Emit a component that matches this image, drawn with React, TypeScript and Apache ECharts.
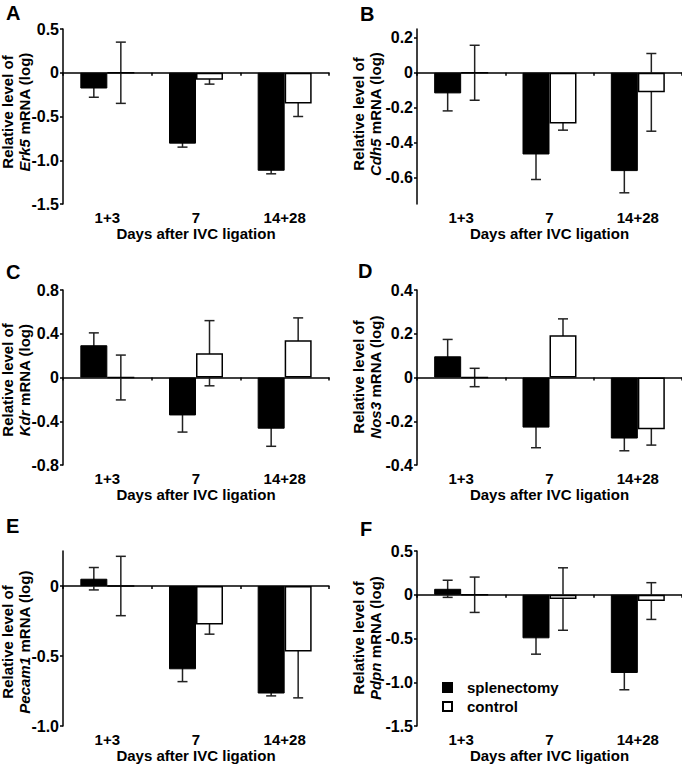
import React, { useEffect, useRef } from "react";
import * as echarts from "echarts";

const categories = ["1+3", "7", "14+28"];
const seriesNames = ["splenectomy", "control"];
const xAxisTitle = "Days after IVC ligation";

const erk5Splenectomy = [-0.18, -0.81, -1.12];
const erk5SplenectomyErr = [0.1, 0.04, 0.035];
const erk5Control = [0, -0.08, -0.35];
const erk5ControlErr = [0.35, 0.05, 0.15];
const erk5Ticks = [-1.5, -1, -0.5, 0, 0.5];

const cdh5Splenectomy = [-0.118, -0.467, -0.562];
const cdh5SplenectomyErr = [0.1, 0.143, 0.124];
const cdh5Control = [0, -0.29, -0.112];
const cdh5ControlErr = [0.157, 0.038, 0.222];
const cdh5Ticks = [-0.6, -0.4, -0.2, 0, 0.2];

const kdrSplenectomy = [0.295, -0.347, -0.468];
const kdrSplenectomyErr = [0.113, 0.152, 0.161];
const kdrControl = [0, 0.222, 0.341];
const kdrControlErr = [0.205, 0.298, 0.204];
const kdrTicks = [-0.8, -0.4, 0, 0.4, 0.8];

const nos3Splenectomy = [0.097, -0.229, -0.279];
const nos3SplenectomyErr = [0.077, 0.092, 0.056];
const nos3Control = [0, 0.193, -0.237];
const nos3ControlErr = [0.042, 0.075, 0.072];
const nos3Ticks = [-0.4, -0.2, 0, 0.2, 0.4];

const pecam1Splenectomy = [0.052, -0.595, -0.768];
const pecam1SplenectomyErr = [0.08, 0.088, 0.017];
const pecam1Control = [0, -0.275, -0.467];
const pecam1ControlErr = [0.212, 0.069, 0.332];
const pecam1Ticks = [-1, -0.5, 0];

const pdpnSplenectomy = [0.068, -0.498, -0.894];
const pdpnSplenectomyErr = [0.098, 0.181, 0.192];
const pdpnControl = [0, -0.049, -0.072];
const pdpnControlErr = [0.202, 0.357, 0.21];
const pdpnTicks = [-1.5, -1, -0.5, 0, 0.5];

const FONT = "'Liberation Sans', Arial, Helvetica, sans-serif";

const panels = [
  { letter: "A", gene: "Erk5", spl: erk5Splenectomy, splErr: erk5SplenectomyErr, ctl: erk5Control, ctlErr: erk5ControlErr, ticks: erk5Ticks, min: -1.5, max: 0.5,
    grid: { left: 63, top: 29, width: 266, height: 175 }, letterPos: [6, 3], namePos: [16, 112] },
  { letter: "B", gene: "Cdh5", spl: cdh5Splenectomy, splErr: cdh5SplenectomyErr, ctl: cdh5Control, ctlErr: cdh5ControlErr, ticks: cdh5Ticks, min: -0.75, max: 0.25,
    grid: { left: 417, top: 29, width: 265, height: 175 }, letterPos: [360, 4], namePos: [367, 114] },
  { letter: "C", gene: "Kdr", spl: kdrSplenectomy, splErr: kdrSplenectomyErr, ctl: kdrControl, ctlErr: kdrControlErr, ticks: kdrTicks, min: -0.8, max: 0.8,
    grid: { left: 63, top: 290, width: 266, height: 175 }, letterPos: [6, 262], namePos: [16, 380] },
  { letter: "D", gene: "Nos3", spl: nos3Splenectomy, splErr: nos3SplenectomyErr, ctl: nos3Control, ctlErr: nos3ControlErr, ticks: nos3Ticks, min: -0.4, max: 0.4,
    grid: { left: 417, top: 290, width: 265, height: 175 }, letterPos: [358, 261], namePos: [367, 377] },
  { letter: "E", gene: "Pecam1", spl: pecam1Splenectomy, splErr: pecam1SplenectomyErr, ctl: pecam1Control, ctlErr: pecam1ControlErr, ticks: pecam1Ticks, min: -1.0, max: 0.25,
    grid: { left: 63, top: 551, width: 266, height: 175 }, letterPos: [6, 516], namePos: [16, 642] },
  { letter: "F", gene: "Pdpn", spl: pdpnSplenectomy, splErr: pdpnSplenectomyErr, ctl: pdpnControl, ctlErr: pdpnControlErr, ticks: pdpnTicks, min: -1.5, max: 0.5,
    grid: { left: 417, top: 551, width: 265, height: 175 }, letterPos: [360, 519], namePos: [367, 638] },
];

const BAR_W = 27;

function errorRender(params: any, api: any) {
  const idx = api.value(0);
  const mean = api.value(1);
  const err = api.value(2);
  const off = api.value(3);
  const c = api.coord([idx, mean]);
  const x = c[0] + off;
  const yTop = api.coord([idx, mean + err])[1];
  const yBot = api.coord([idx, mean - err])[1];
  const style = { stroke: "#222", lineWidth: 1.5 };
  return {
    type: "group",
    children: [
      { type: "line", shape: { x1: x, y1: yTop, x2: x, y2: yBot }, style },
      { type: "line", shape: { x1: x - 5, y1: yTop, x2: x + 5, y2: yTop }, style },
      { type: "line", shape: { x1: x - 5, y1: yBot, x2: x + 5, y2: yBot }, style },
    ],
  };
}

function buildOption() {
  const grid: any[] = [];
  const xAxis: any[] = [];
  const yAxis: any[] = [];
  const series: any[] = [];
  const graphic: any[] = [];

  panels.forEach((p, g) => {
    grid.push({ ...p.grid, containLabel: false });
    xAxis.push({
      type: "category",
      gridIndex: g,
      data: categories,
      position: "bottom",
      axisLine: { show: false, onZero: false },
      axisTick: { show: false },
      axisLabel: { color: "#000", fontSize: 15, fontWeight: "bold", fontFamily: FONT, margin: 6 },
      name: xAxisTitle,
      nameLocation: "middle",
      nameGap: 22,
      nameTextStyle: { color: "#000", fontSize: 15, fontWeight: "bold", fontFamily: FONT },
      splitLine: { show: false },
    });
    xAxis.push({
      type: "category",
      gridIndex: g,
      data: categories,
      position: "bottom",
      axisLine: { show: true, onZero: true, lineStyle: { color: "#000", width: 1.5 } },
      axisTick: { show: true, length: 3, lineStyle: { color: "#000", width: 1.5 } },
      axisLabel: { show: false },
      splitLine: { show: false },
    });
    yAxis.push({
      type: "value",
      gridIndex: g,
      min: p.min,
      max: p.max,
      axisLine: { show: true, onZero: false, lineStyle: { color: "#000", width: 1.5 } },
      axisTick: { show: true, length: 3, customValues: p.ticks, lineStyle: { color: "#000", width: 1.5 } },
      axisLabel: {
        customValues: p.ticks,
        color: "#000",
        fontSize: 16,
        fontWeight: "bold",
        fontFamily: FONT,
        margin: 4,
        formatter: (v: number) => (Math.abs(v) < 1e-9 ? "0" : v.toFixed(1)),
      },
      splitLine: { show: false },
    });

    const xi = g * 2;
    series.push({
      type: "custom",
      xAxisIndex: xi,
      yAxisIndex: g,
      z: 1,
      renderItem: errorRender,
      encode: { x: 0, y: 1 },
      data: p.spl.map((v, i) => [i, v, p.splErr[i], -BAR_W / 2]),
      silent: true,
    });
    series.push({
      type: "custom",
      xAxisIndex: xi,
      yAxisIndex: g,
      z: 1,
      renderItem: errorRender,
      encode: { x: 0, y: 1 },
      data: p.ctl.map((v, i) => [i, v, p.ctlErr[i], BAR_W / 2]),
      silent: true,
    });
    series.push({
      type: "bar",
      name: seriesNames[0],
      xAxisIndex: xi,
      yAxisIndex: g,
      z: 3,
      barWidth: BAR_W,
      barGap: "0%",
      data: p.spl,
      itemStyle: { color: "#000", borderColor: "#000", borderWidth: 1 },
    });
    series.push({
      type: "bar",
      name: seriesNames[1],
      xAxisIndex: xi,
      yAxisIndex: g,
      z: 3,
      barWidth: BAR_W,
      barGap: "0%",
      data: p.ctl,
      itemStyle: { color: "#fff", borderColor: "#000", borderWidth: 1.5 },
    });

    graphic.push({
      type: "text",
      left: p.letterPos[0],
      top: p.letterPos[1],
      style: { text: p.letter, fill: "#000", fontSize: 20, fontWeight: "bold", fontFamily: FONT },
    });
    graphic.push({
      type: "text",
      x: p.namePos[0],
      y: p.namePos[1],
      rotation: Math.PI / 2,
      style: {
        text: "{n|Relative level of}\n{i|" + p.gene + "}{n| mRNA (log)}",
        align: "center",
        verticalAlign: "middle",
        fill: "#000",
        rich: {
          n: { fontSize: 15, fontWeight: "bold", fontFamily: FONT, lineHeight: 17, fill: "#000" },
          i: { fontSize: 15, fontWeight: "bold", fontStyle: "italic", fontFamily: FONT, lineHeight: 17, fill: "#000" },
        },
      },
    });
  });

  return {
    animation: false,
    backgroundColor: "#fff",
    grid,
    xAxis,
    yAxis,
    series,
    graphic,
    legend: {
      data: seriesNames,
      orient: "vertical",
      left: 437,
      top: 675,
      icon: "rect",
      itemWidth: 9,
      itemHeight: 9,
      itemGap: 4,
      selectedMode: false,
      textStyle: { color: "#000", fontSize: 15, fontWeight: "bold", fontFamily: FONT, padding: [0, 0, 0, 10] },
    },
  };
}

export default function App() {
  const ref = useRef<HTMLDivElement>(null);
  useEffect(() => {
    if (!ref.current) return;
    const chart = echarts.init(ref.current, null, { renderer: "svg" });
    chart.setOption(buildOption() as any);
    return () => chart.dispose();
  }, []);
  return (
    <div
      ref={ref}
      style={{ position: "absolute", left: 0, top: 0, width: 682, height: 764, background: "#fff" }}
    />
  );
}
